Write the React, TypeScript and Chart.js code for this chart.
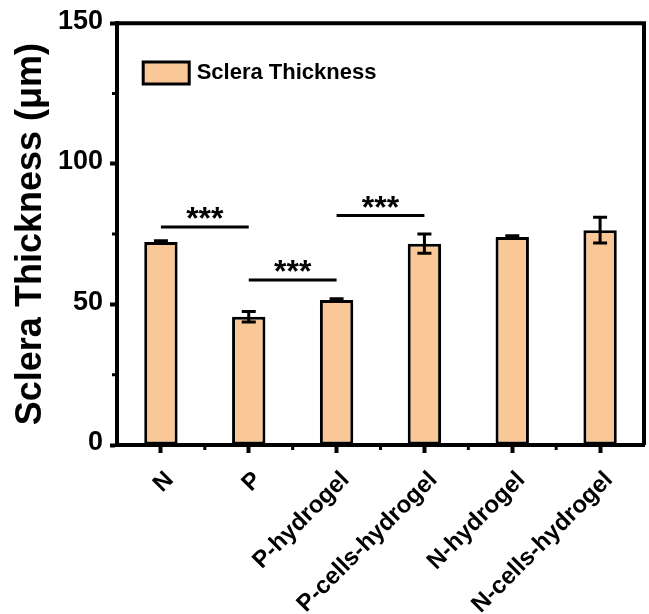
import React, { useEffect, useRef } from 'react';
import { Chart, registerables } from 'chart.js';

Chart.register(...registerables);

const categories = ['N', 'P', 'P-hydrogel', 'P-cells-hydrogel', 'N-hydrogel', 'N-cells-hydrogel'];
const thickness = [72.2, 45.6, 51.6, 71.6, 74.0, 76.4];
const thicknessError = [0.4, 1.9, 0.4, 3.4, 0.4, 4.6];
const yTicks = [0, 50, 100, 150];
const yMinorTicks = [25, 75, 125];
const sigFrom = [0, 1, 2];
const sigTo = [1, 2, 3];
const sigLevel = [77.5, 58.7, 81.6];
const sigText = ['***', '***', '***'];
const seriesLabel = 'Sclera Thickness';
const yTitle = 'Sclera Thickness (μm)';

const FONT = "'Liberation Sans', Arial, sans-serif";
const BAR_FILL = '#FAC896';
const INK = '#000000';

const decorations = {
  id: 'decorations',
  afterDatasetsDraw(chart: any) {
    const { ctx, chartArea: ca, scales } = chart;
    const x = scales.x;
    const y = scales.y;
    const meta = chart.getDatasetMeta(0);
    ctx.save();

    // error bars
    ctx.strokeStyle = INK;
    ctx.lineWidth = 3;
    meta.data.forEach((bar: any, i: number) => {
      const v = thickness[i];
      const e = thicknessError[i];
      const yt = y.getPixelForValue(v + e);
      const yb = y.getPixelForValue(v - e);
      const cx = bar.x;
      const cap = 7;
      ctx.beginPath();
      ctx.moveTo(cx, yt);
      ctx.lineTo(cx, yb);
      ctx.moveTo(cx - cap, yt);
      ctx.lineTo(cx + cap, yt);
      ctx.moveTo(cx - cap, yb);
      ctx.lineTo(cx + cap, yb);
      ctx.stroke();
    });

    // significance brackets
    ctx.font = `bold 32px ${FONT}`;
    ctx.textAlign = 'center';
    ctx.textBaseline = 'alphabetic';
    ctx.fillStyle = INK;
    sigFrom.forEach((from, i) => {
      const x1 = x.getPixelForValue(from);
      const x2 = x.getPixelForValue(sigTo[i]);
      const ly = y.getPixelForValue(sigLevel[i]);
      ctx.lineWidth = 3;
      ctx.beginPath();
      ctx.moveTo(x1, ly);
      ctx.lineTo(x2, ly);
      ctx.stroke();
      const m = ctx.measureText(sigText[i]);
      const center = ly - 14;
      const base = center - (m.actualBoundingBoxDescent - m.actualBoundingBoxAscent) / 2;
      ctx.fillText(sigText[i], (x1 + x2) / 2, base);
    });

    // top and right frame
    ctx.lineWidth = 4;
    ctx.beginPath();
    ctx.moveTo(ca.left, ca.top);
    ctx.lineTo(ca.right, ca.top);
    ctx.lineTo(ca.right, ca.bottom);
    ctx.stroke();

    // minor ticks
    ctx.lineWidth = 3;
    ctx.beginPath();
    yMinorTicks.forEach((v) => {
      const py = y.getPixelForValue(v);
      ctx.moveTo(ca.left, py);
      ctx.lineTo(ca.left - 5, py);
    });
    for (let i = 0; i < categories.length - 1; i++) {
      const px = (x.getPixelForValue(i) + x.getPixelForValue(i + 1)) / 2;
      ctx.moveTo(px, ca.bottom);
      ctx.lineTo(px, ca.bottom + 5);
    }
    ctx.stroke();

    // legend
    const ds = chart.data.datasets[0];
    const bx = ca.left + 26.2;
    const by = ca.top + 38.8;
    ctx.fillStyle = ds.backgroundColor;
    ctx.fillRect(bx, by, 46, 22);
    ctx.lineWidth = 3;
    ctx.strokeStyle = INK;
    ctx.strokeRect(bx, by, 46, 22);
    ctx.fillStyle = INK;
    ctx.font = `bold 22px ${FONT}`;
    ctx.textAlign = 'left';
    ctx.textBaseline = 'middle';
    ctx.fillText(ds.label, ca.left + 79.7, ca.top + 50);

    ctx.restore();
  },
};

export default function App() {
  const ref = useRef<HTMLCanvasElement | null>(null);

  useEffect(() => {
    document.body.style.margin = '0';
    const canvas = ref.current;
    if (!canvas) return;
    const chart = new Chart(canvas, {
      type: 'bar',
      data: {
        labels: categories,
        datasets: [
          {
            label: seriesLabel,
            data: thickness,
            backgroundColor: BAR_FILL,
            borderColor: INK,
            borderWidth: 3,
            borderSkipped: false,
            categoryPercentage: 1,
            barPercentage: 0.38,
          },
        ],
      },
      options: {
        animation: false,
        responsive: false,
        devicePixelRatio: 1,
        layout: { padding: { top: 21, right: 5, left: 0, bottom: 0 } },
        plugins: {
          legend: { display: false },
          tooltip: { enabled: false },
        },
        scales: {
          x: {
            type: 'category',
            offset: true,
            grid: {
              offset: false,
              drawOnChartArea: false,
              drawTicks: true,
              tickLength: 8,
              tickWidth: 4,
              tickColor: INK,
            },
            border: { display: true, color: INK, width: 4 },
            ticks: {
              autoSkip: false,
              minRotation: 45,
              maxRotation: 45,
              padding: 13,
              labelOffset: 9,
              color: INK,
              font: { family: FONT, size: 24, weight: 'bold' },
            },
            afterFit(scale: any) {
              scale.height = 169;
            },
          },
          y: {
            min: 0,
            max: 150,
            afterBuildTicks(scale: any) {
              scale.ticks = yTicks.map((v) => ({ value: v }));
            },
            grid: {
              drawOnChartArea: false,
              drawTicks: true,
              tickLength: 7,
              tickWidth: 4,
              tickColor: INK,
            },
            border: { display: true, color: INK, width: 4 },
            ticks: {
              padding: 7,
              labelOffset: -2,
              color: INK,
              font: { family: FONT, size: 27, weight: 'bold' },
            },
            title: {
              display: true,
              text: yTitle,
              color: INK,
              padding: { top: 9, bottom: 0 },
              font: { family: FONT, size: 36, weight: 'bold', lineHeight: 1.2 },
            },
            afterFit(scale: any) {
              scale.width = 117;
            },
          },
        },
      },
      plugins: [decorations],
    });
    return () => chart.destroy();
  }, []);

  return (
    <div style={{ width: 649, height: 614 }}>
      <canvas ref={ref} width={649} height={614} style={{ display: 'block' }} />
    </div>
  );
}
